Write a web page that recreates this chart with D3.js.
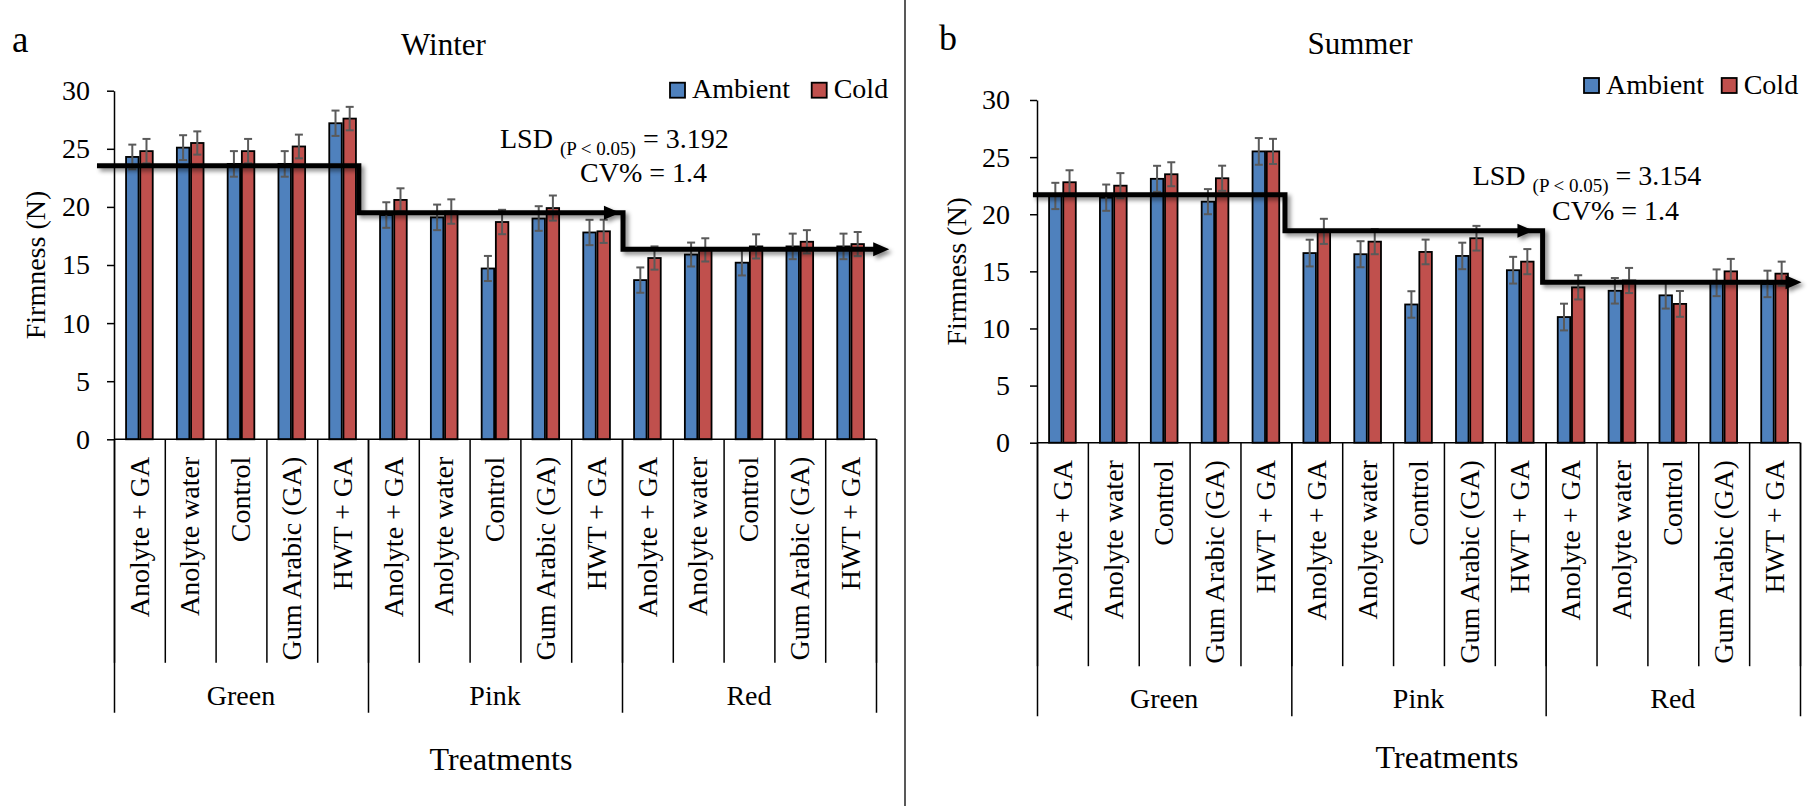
<!DOCTYPE html>
<html>
<head>
<meta charset="utf-8">
<script src="https://cdn.jsdelivr.net/npm/d3@7"></script>
<style>
  html, body { margin: 0; padding: 0; background: #ffffff; }
  svg { display: block; }
</style>
</head>
<body>
<svg id="chart" width="1809" height="806"></svg>
<script>
// ---- data ----
const groups = ["Green", "Pink", "Red"];
const treatments = ["Anolyte + GA", "Anolyte water", "Control", "Gum Arabic (GA)", "HWT + GA"];
const series = ["Ambient", "Cold"];
const yTicks = [0, 5, 10, 15, 20, 25, 30];

// Winter firmness (N), ordered Green -> Pink -> Red, five treatments each
const winterAmbient    = [24.3, 25.1, 23.7, 23.7, 27.2, 19.3, 19.1, 14.7, 19.0, 17.8, 13.7, 15.9, 15.2, 16.6, 16.6];
const winterCold       = [24.8, 25.5, 24.8, 25.2, 27.6, 20.6, 19.6, 18.7, 19.9, 17.9, 15.6, 16.3, 16.6, 17.0, 16.8];
const winterAmbientErr = [1.06, 1.07, 1.1, 1.1, 1.09, 1.1, 1.1, 1.08, 1.06, 1.09, 1.09, 1.03, 1.1, 1.1, 1.1];
const winterColdErr    = [1.05, 1.0, 1.05, 1.02, 1.01, 1.0, 1.05, 1.05, 1.08, 1.0, 1.0, 1.0, 1.04, 1.0, 1.04];

// Summer firmness (N)
const summerAmbient    = [21.6, 21.45, 23.1, 21.1, 25.5, 16.6, 16.5, 12.1, 16.35, 15.1, 11.0, 13.3, 12.9, 14.0, 13.9];
const summerCold       = [22.8, 22.5, 23.5, 23.15, 25.5, 18.5, 17.6, 16.7, 17.9, 15.85, 13.6, 14.2, 12.15, 15.0, 14.8];
const summerAmbientErr = [1.15, 1.15, 1.14, 1.1, 1.17, 1.17, 1.14, 1.16, 1.16, 1.17, 1.17, 1.12, 1.16, 1.17, 1.16];
const summerColdErr    = [1.05, 1.1, 1.05, 1.1, 1.1, 1.1, 1.1, 1.08, 1.08, 1.1, 1.06, 1.1, 1.13, 1.09, 1.05];

// Mean firmness level per ripeness stage (step arrow)
const winterStageLevels = [23.55, 19.5, 16.35];
const summerStageLevels = [21.7, 18.55, 14.05];

const winterStats = { lsd: "3.192", cv: "1.4" };
const summerStats = { lsd: "3.154", cv: "1.4" };

const colors = { Ambient: "#4f81bd", Cold: "#c0504d" };
const FONT = "'Liberation Serif', 'Times New Roman', serif";

// ---- layout ----
const svg = d3.select("#chart").attr("font-family", FONT);
const defs = svg.append("defs");
const shadow = defs.append("filter").attr("id", "arrowShadow")
  .attr("x", "-5%").attr("y", "-20%").attr("width", "110%").attr("height", "140%");
shadow.append("feDropShadow").attr("dx", 3).attr("dy", 3).attr("stdDeviation", 2.2)
  .attr("flood-color", "#000").attr("flood-opacity", 0.45);

const panels = [
  {
    letter: "a", letterX: 12, letterY: 51.7, letterSize: 37,
    title: "Winter", titleX: 443.5, titleY: 55,
    left: 114, right: 876, top: 90.7, bottom: 439.3,
    ambient: winterAmbient, cold: winterCold, ambientErr: winterAmbientErr, coldErr: winterColdErr,
    levels: winterStageLevels, steps: [-0.335, 4.82, 10.02, 15.26], midArrow: 9.96,
    stats: winterStats, statX: 500, statY: 148.3, cvX: 580, cvY: 181.7,
    legendX: [670, 811.7], legendY: 82.7, legendTextY: 98,
    tickPad: 17, yTitleX: 44.5,
    groupY: 705, treatX: 501, treatY: 770
  },
  {
    letter: "b", letterX: 939, letterY: 50, letterSize: 36,
    title: "Summer", titleX: 1360, titleY: 54.3,
    left: 1037, right: 1800, top: 100, bottom: 442.7,
    ambient: summerAmbient, cold: summerCold, ambientErr: summerAmbientErr, coldErr: summerColdErr,
    levels: summerStageLevels, steps: [-0.08, 4.875, 9.94, 15.03], midArrow: 9.76,
    stats: summerStats, statX: 1472.7, statY: 185, cvX: 1552, cvY: 220,
    legendX: [1584, 1721.7], legendY: 78, legendTextY: 94.3,
    tickPad: 20, yTitleX: 966,
    groupY: 708.3, treatX: 1447, treatY: 768
  }
];

// divider between the two panels
svg.append("line").attr("x1", 905).attr("x2", 905).attr("y1", 0).attr("y2", 806)
  .attr("stroke", "#222").attr("stroke-width", 1.5);

function drawPanel(p) {
  const g = svg.append("g").attr("font-family", FONT);
  const n = groups.length * treatments.length;
  const idx = d3.range(n);

  const x = d3.scaleBand().domain(idx).range([p.left, p.right])
    .paddingInner(0.475).paddingOuter(0.2375);
  const xs = d3.scaleBand().domain(series).range([0, x.bandwidth()]).paddingInner(0.12);
  const xc = d3.scaleLinear().domain([0, n]).range([p.left, p.right]);
  const y = d3.scaleLinear().domain([0, 30]).range([p.bottom, p.top]);

  const rows = [];
  idx.forEach(i => {
    rows.push({ i, s: "Ambient", v: p.ambient[i], e: p.ambientErr[i] });
    rows.push({ i, s: "Cold", v: p.cold[i], e: p.coldErr[i] });
  });

  // bars
  g.append("g").selectAll("rect").data(rows).join("rect")
    .attr("x", d => x(d.i) + xs(d.s))
    .attr("y", d => y(d.v))
    .attr("width", xs.bandwidth())
    .attr("height", d => y(0) - y(d.v))
    .attr("fill", d => colors[d.s])
    .attr("stroke", "#000").attr("stroke-width", 1.8);

  // error bars
  const eb = g.append("g").attr("stroke", "#5a5a5a").attr("stroke-width", 2);
  const cx = d => x(d.i) + xs(d.s) + xs.bandwidth() / 2;
  eb.selectAll("line.v").data(rows).join("line").attr("class", "v")
    .attr("x1", cx).attr("x2", cx)
    .attr("y1", d => y(d.v - d.e)).attr("y2", d => y(d.v + d.e));
  eb.selectAll("line.t").data(rows).join("line").attr("class", "t")
    .attr("x1", d => cx(d) - 4).attr("x2", d => cx(d) + 4)
    .attr("y1", d => y(d.v + d.e)).attr("y2", d => y(d.v + d.e));
  eb.selectAll("line.b").data(rows).join("line").attr("class", "b")
    .attr("x1", d => cx(d) - 4).attr("x2", d => cx(d) + 4)
    .attr("y1", d => y(d.v - d.e)).attr("y2", d => y(d.v - d.e));

  // y axis
  const ya = g.append("g").attr("transform", `translate(${p.left},0)`)
    .call(d3.axisLeft(y).tickValues(yTicks).tickSize(7).tickSizeOuter(0).tickPadding(p.tickPad));
  ya.attr("font-family", FONT);
  ya.select(".domain").attr("stroke", "#000").attr("stroke-width", 1.5);
  ya.selectAll(".tick line").attr("stroke", "#000").attr("stroke-width", 1.5);
  ya.selectAll(".tick text").attr("font-size", 28).attr("fill", "#000");

  // x axis baseline
  g.append("line").attr("x1", p.left).attr("x2", p.right)
    .attr("y1", y(0)).attr("y2", y(0)).attr("stroke", "#000").attr("stroke-width", 1.5);

  // category separators and group separators
  const sep = g.append("g").attr("transform", `translate(0,${y(0)})`)
    .call(d3.axisBottom(xc).tickValues(d3.range(n + 1)).tickSize(223.5).tickFormat(""));
  sep.select(".domain").remove();
  sep.selectAll(".tick line").attr("stroke", "#000").attr("stroke-width", 1.5);
  const gsep = g.append("g").attr("transform", `translate(0,${y(0)})`)
    .call(d3.axisBottom(xc).tickValues(d3.range(0, n + 1, treatments.length)).tickSize(273.5).tickFormat(""));
  gsep.select(".domain").remove();
  gsep.selectAll(".tick line").attr("stroke", "#000").attr("stroke-width", 1.5);

  // treatment labels (rotated)
  g.append("g").selectAll("text").data(idx).join("text")
    .attr("transform", i => `translate(${xc(i + 0.5)},${y(0) + 17.4}) rotate(-90)`)
    .attr("text-anchor", "end").attr("dy", "0.33em")
    .attr("font-size", 28).attr("fill", "#000")
    .text(i => treatments[i % treatments.length]);

  // ripeness stage labels
  g.append("g").selectAll("text").data(groups).join("text")
    .attr("x", (d, k) => xc(k * treatments.length + treatments.length / 2))
    .attr("y", p.groupY)
    .attr("text-anchor", "middle").attr("font-size", 28).attr("fill", "#000")
    .text(d => d);

  // axis titles
  g.append("text").attr("x", p.treatX).attr("y", p.treatY)
    .attr("text-anchor", "middle").attr("font-size", 32).attr("fill", "#000")
    .text("Treatments");
  g.append("text")
    .attr("transform", `translate(${p.yTitleX},${(p.top + p.bottom) / 2}) rotate(-90)`)
    .attr("text-anchor", "middle").attr("font-size", 28).attr("fill", "#000")
    .text("Firmness (N)");

  // panel letter and title
  g.append("text").attr("x", p.letterX).attr("y", p.letterY)
    .attr("font-size", p.letterSize).attr("fill", "#000").text(p.letter);
  g.append("text").attr("x", p.titleX).attr("y", p.titleY)
    .attr("text-anchor", "middle").attr("font-size", 31).attr("fill", "#000").text(p.title);

  // legend
  series.forEach((s, k) => {
    g.append("rect").attr("x", p.legendX[k]).attr("y", p.legendY)
      .attr("width", 15).attr("height", 15)
      .attr("fill", colors[s]).attr("stroke", "#000").attr("stroke-width", 1.8);
    g.append("text").attr("x", p.legendX[k] + 22).attr("y", p.legendTextY)
      .attr("font-size", 28).attr("fill", "#000").text(s);
  });

  // LSD / CV annotation
  const st = g.append("text").attr("x", p.statX).attr("y", p.statY)
    .attr("font-size", 28).attr("fill", "#000");
  st.append("tspan").text("LSD ");
  st.append("tspan").attr("font-size", 19).attr("dy", 7).text("(P < 0.05)");
  st.append("tspan").attr("dy", -7).text(` = ${p.stats.lsd}`);
  g.append("text").attr("x", p.cvX).attr("y", p.cvY)
    .attr("font-size", 28).attr("fill", "#000").text(`CV% = ${p.stats.cv}`);

  // stepped arrow tracing the stage means
  const L = p.levels, S = p.steps;
  const head = 16, half = 7;
  const arrow = g.append("g").attr("filter", "url(#arrowShadow)");
  const pts = [
    [xc(S[0]), y(L[0])], [xc(S[1]), y(L[0])],
    [xc(S[1]), y(L[1])], [xc(S[2]), y(L[1])],
    [xc(S[2]), y(L[2])], [xc(S[3]) - head + 2, y(L[2])]
  ];
  arrow.append("path").attr("d", d3.line()(pts))
    .attr("fill", "none").attr("stroke", "#000").attr("stroke-width", 5)
    .attr("stroke-linejoin", "miter");
  const tri = (tx, ty) => `M${tx},${ty} L${tx - head},${ty - half} L${tx - head},${ty + half} Z`;
  arrow.append("path").attr("d", tri(xc(p.midArrow), y(L[1]))).attr("fill", "#000");
  arrow.append("path").attr("d", tri(xc(S[3]), y(L[2]))).attr("fill", "#000");
}

panels.forEach(drawPanel);
</script>
</body>
</html>
